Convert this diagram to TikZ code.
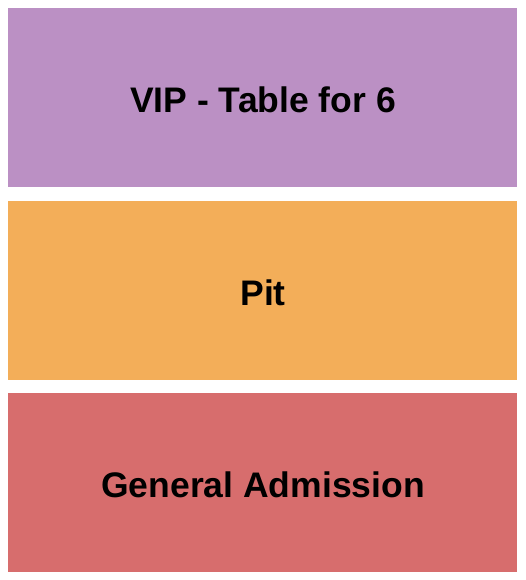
\documentclass[tikz,border=0pt]{standalone}
\usepackage{fontspec}
\setmainfont{Liberation Sans}
\definecolor{vipc}{HTML}{BB90C4}
\definecolor{pitc}{HTML}{F3AE59}
\definecolor{gac}{HTML}{D76D6D}
\tikzset{
  section/.style={draw=none},
  seclabel/.style={anchor=base, inner sep=0pt, font=\fontsize{35.5}{40}\selectfont\bfseries, text=black}
}
\begin{document}
\begin{tikzpicture}[x=1pt,y=1pt]
\useasboundingbox (0,0) rectangle (525,580);
\fill[white] (0,0) rectangle (525,580);
\fill[vipc, section] (8,393) rectangle (517,572);
\fill[pitc, section] (8,200) rectangle (517,379);
\fill[gac, section] (8,8) rectangle (517,187);
\node[seclabel] (vip) at (263,467.5) {VIP - Table for 6};
\node[seclabel] (pit) at (263,274.5) {Pit};
\node[seclabel] (ga) at (263,82.5) {General Admission};
\end{tikzpicture}
\end{document}
